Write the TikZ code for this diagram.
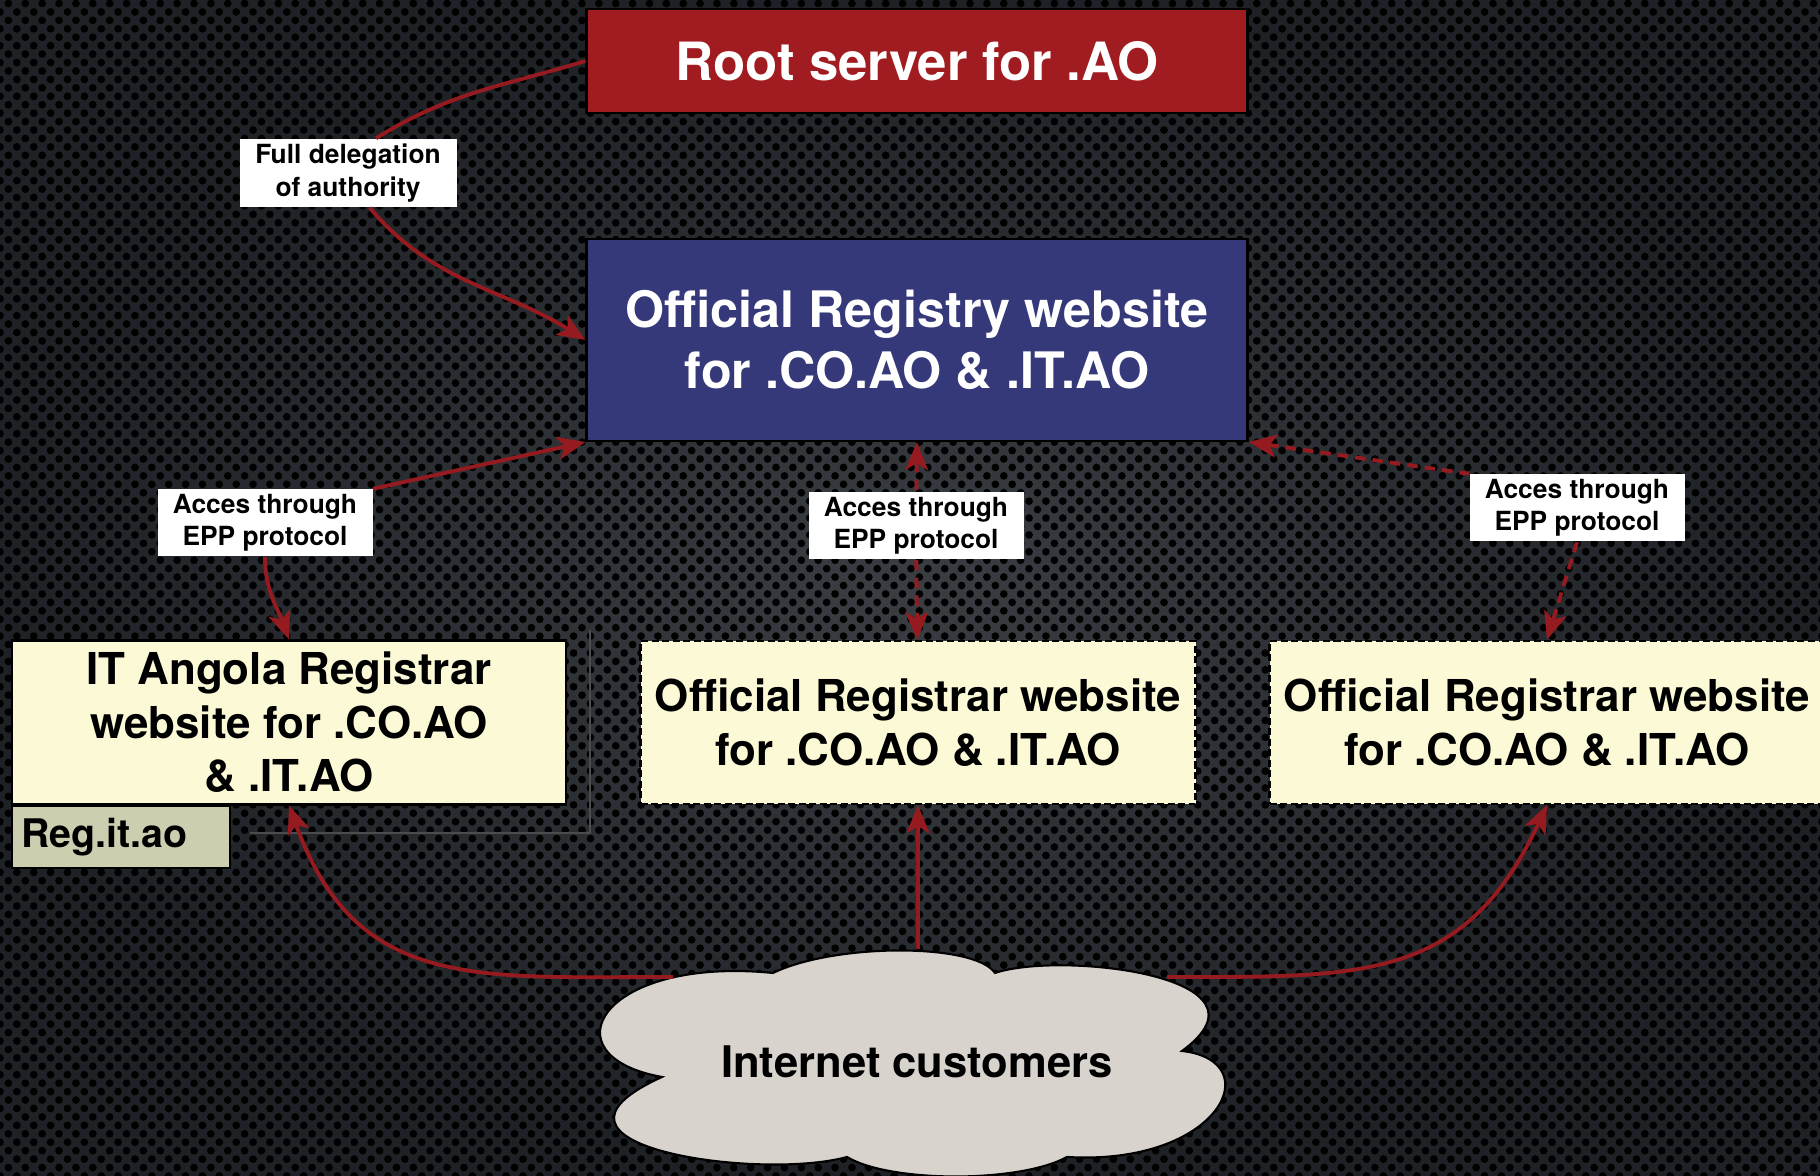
\documentclass[tikz,border=0pt]{standalone}
\usepackage{fontspec}
\setmainfont{TeX Gyre Heros}
\usetikzlibrary{arrows.meta,patterns.meta}

\definecolor{bgin}{HTML}{3A3E43}
\definecolor{bgout}{HTML}{1E2125}
\definecolor{rootred}{HTML}{A01C21}
\definecolor{registryblue}{HTML}{35397A}
\definecolor{registrarfill}{HTML}{FCF9D6}
\definecolor{tagfill}{HTML}{CDCDB0}
\definecolor{cloudfill}{HTML}{D9D3CD}
\definecolor{linkred}{HTML}{951B20}

\tikzset{
    topbox/.style={draw=black, line width=0.6pt, text=white, minimum width=6.61cm, align=center},
    registrar/.style={draw=black, fill=registrarfill, line width=0.6pt, minimum width=5.55cm,
        minimum height=1.63cm, align=center, font=\fontsize{12.5}{15.2}\selectfont\bfseries},
    dashbox/.style={registrar, dash pattern=on 2pt off 1pt},
    tag/.style={fill=white, align=center, minimum width=2.15cm, minimum height=0.67cm, inner sep=1pt,
        font=\fontsize{7.5}{9.2}\selectfont\bfseries},
    link/.style={draw=linkred, line width=1.1pt},
    epplink/.style={link, dash pattern=on 3pt off 2pt},
    >={Stealth[length=8pt, width=6.5pt, inset=2pt]}
}

\begin{document}
\begin{tikzpicture}
    \useasboundingbox (0,0) rectangle (18.2,11.76);
    \shade[inner color=bgin, outer color=bgout] (0,0) rectangle (18.2,11.76);
    \fill[pattern={Dots[radius=1.1pt, distance=4.8pt]}, pattern color=black] (0,0) rectangle (18.2,11.76);
    \fill[pattern={Dots[radius=1.1pt, distance=4.8pt, xshift=2.4pt, yshift=2.4pt]}, pattern color=black] (0,0) rectangle (18.2,11.76);
    \draw[gray!60!black, line width=0.3pt] (2.50,3.43) -- (5.90,3.43) -- (5.90,5.46);

    \node[topbox, fill=rootred, minimum height=1.04cm, font=\fontsize{15}{18}\selectfont\bfseries] (root) at (9.17,11.15) {Root server for .AO};
    \node[topbox, fill=registryblue, minimum height=2.02cm, font=\fontsize{14.3}{17.2}\selectfont\bfseries] (registry) at (9.17,8.36) {Official Registry website\\for .CO.AO \& .IT.AO};
    \node[tag, minimum width=2.17cm, minimum height=0.68cm] (deleg) at (3.48,10.03) {Full delegation\\of authority};

    \node[tag] (eppL) at (2.65,6.53) {Acces through\\EPP protocol};
    \node[tag] (eppM) at (9.16,6.50) {Acces through\\EPP protocol};
    \node[tag] (eppR) at (15.77,6.68) {Acces through\\EPP protocol};

    \node[registrar, minimum width=5.54cm] (itreg) at (2.89,4.535) {IT Angola Registrar\\website for .CO.AO\\\& .IT.AO};
    \node[draw=black, fill=tagfill, line width=0.6pt, text width=2.0cm, inner xsep=0.09cm, minimum height=0.6cm, align=left, font=\fontsize{11.2}{13}\selectfont\bfseries] (regtag) at (1.21,3.39) {Reg.it.ao};
    \node[dashbox] (offreg) at (9.18,4.535) {Official Registrar website\\for .CO.AO \& .IT.AO};
    \node[dashbox] (rightreg) at (15.47,4.535) {Official Registrar website\\for .CO.AO \& .IT.AO};

    \filldraw[draw=black, fill=cloudfill, line width=0.6pt] (6.62,0.99) .. controls (5.45,1.2) and (6.0,2.2) .. (7.73,2.03)
        .. controls (8.35,2.33) and (9.75,2.33) .. (9.95,2.03) .. controls (10.6,2.25) and (12.85,2.0) .. (11.82,1.25)
        .. controls (12.7,1.15) and (12.2,0.1) .. (10.67,0.19) .. controls (10.2,-0.07) and (8.9,-0.07) .. (8.47,0.19)
        .. controls (7.6,-0.05) and (5.1,0.3) .. cycle;
    \node[font=\fontsize{12.4}{15}\selectfont\bfseries] (cloud) at (9.17,1.14) {Internet customers};
    \coordinate (cloudwest) at (6.73,1.99);
    \coordinate (cloudtop) at (9.18,2.27);
    \coordinate (cloudeast) at (11.67,1.99);

    \draw[link] (root.west) to[out=197, in=32] (deleg.51);
    \draw[link, ->] (deleg.-58) to[out=-50, in=148] (registry.west);
    \draw[link, <-] (registry.south west) -- (eppL.north east);
    \draw[link, ->] (eppL) to[out=-90, in=110] (itreg.north);
    \draw[epplink, <-] (registry.south) -- (eppM);
    \draw[epplink, ->] (eppM) -- (offreg);
    \draw[epplink, <-] (registry.south east) -- (eppR.north west);
    \draw[epplink, ->] (eppR.south) -- (rightreg.north);
    \draw[link, ->] (cloudwest) to[out=180, in=-70, looseness=1.2] (itreg.south);
    \draw[link, ->] (cloudtop) -- (offreg.south);
    \draw[link, ->] (cloudeast) to[out=0, in=-115, looseness=1.2] (rightreg.south);
\end{tikzpicture}
\end{document}
